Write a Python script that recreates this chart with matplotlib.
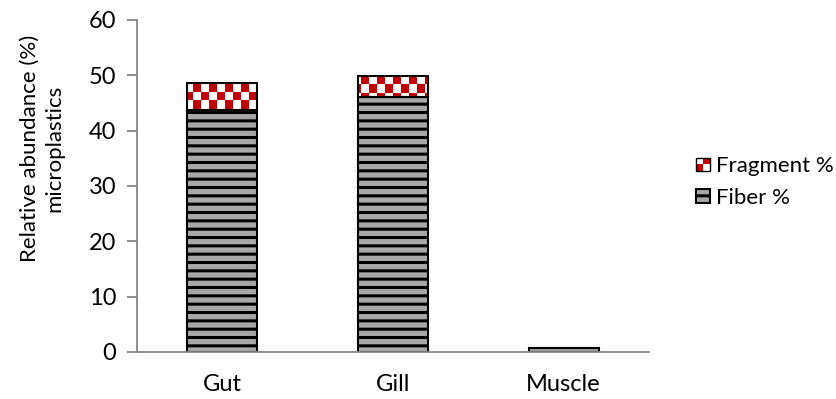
import matplotlib.pyplot as plt
from matplotlib.patches import Rectangle
from matplotlib.colors import ListedColormap
from matplotlib.legend_handler import HandlerBase
import numpy as np

categories = ["Gut", "Gill", "Muscle"]
fiber = [43.7, 46.1, 0.8]
fragment = [4.9, 3.8, 0.0]
yticks = [0, 10, 20, 30, 40, 50, 60]

plt.rcParams['font.family'] = ['Lato', 'DejaVu Sans']
plt.rcParams['hatch.linewidth'] = 2.2
FS = 16


class CheckerHandler(HandlerBase):
    # small 2x2 red/white checker for the legend
    def create_artists(self, legend, orig_handle, xdescent, ydescent, width, height, fontsize, trans):
        s = min(width, height)
        arts = []
        for i in range(2):
            for j in range(2):
                c = '#c00000' if (i + j) % 2 == 0 else 'white'
                arts.append(Rectangle((-xdescent + i*s/2, -ydescent + j*s/2), s/2, s/2,
                                      facecolor=c, edgecolor='none', transform=trans))
        arts.append(Rectangle((-xdescent, -ydescent), s, s, fill=False, edgecolor='black', lw=1, transform=trans))
        return arts


fig = plt.figure(figsize=(8.37, 3.99), dpi=100)
ax = fig.add_axes([137/837, 1-352/399, (649-137)/837, (352-20)/399])
x = np.arange(len(categories))
w = 0.41

fib = ax.bar(x, fiber, w, color="#a8a8a8", edgecolor="black", hatch="--", linewidth=1.5, label="Fiber %", zorder=2)
frag = ax.bar(x, fragment, w, bottom=fiber, facecolor="none", edgecolor="black", linewidth=1.5, label="Fragment %", zorder=3)

# checker pattern for the fragment segments, clipped to each bar
checker = np.indices((41, 64)).sum(axis=0) % 2
for p in frag:
    if p.get_height() <= 0:
        continue
    im = ax.imshow(checker, cmap=ListedColormap(['white', '#c00000']), extent=(-0.5, 2.5, 0, 60),
                   aspect='auto', interpolation='nearest', origin='lower', zorder=2.5)
    im.set_clip_path(p)

ax.set_xlim(-0.5, 2.5)
ax.set_ylim(0, 60)
ax.set_yticks(yticks)
ax.set_xticks(x)
ax.set_xticklabels(categories, fontsize=17)
for s in ["top", "right"]:
    ax.spines[s].set_visible(False)
for s in ["left", "bottom"]:
    ax.spines[s].set_color("#868686")
    ax.spines[s].set_linewidth(1.3)
ax.tick_params(axis="y", colors="#868686", labelcolor="black", labelsize=17, direction="out", length=7, width=1.3, pad=8)
ax.tick_params(axis="x", length=0, pad=16)

fig.text(42/837, 1-148/399, "Relative abundance (%)\nmicroplastics", rotation=90, ha="center", va="center",
         multialignment="center", fontsize=FS, linespacing=1.25)

fig.legend([frag, fib], ["Fragment %", "Fiber %"], handler_map={frag: CheckerHandler()},
           loc="center right", bbox_to_anchor=(834/837, 1-182/399), frameon=False, fontsize=FS,
           handlelength=0.6, handleheight=0.6, handletextpad=0.3, labelspacing=0.55, borderpad=0, borderaxespad=0)
fig.savefig("out.png", dpi=100)
